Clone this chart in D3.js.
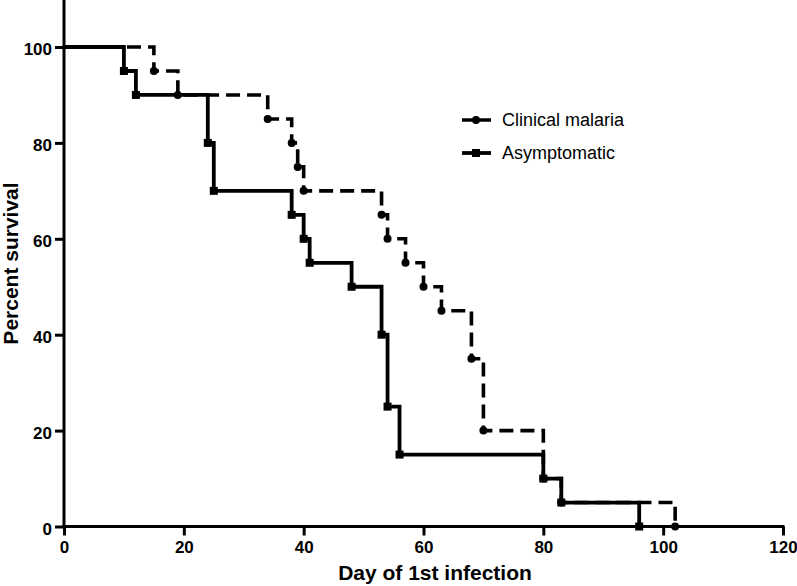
<!DOCTYPE html>
<html><head><meta charset="utf-8">
<script src="https://cdn.jsdelivr.net/npm/d3@7"></script>
<style>body{margin:0;background:#fff}svg{display:block}text{font-family:"Liberation Sans",Arial,sans-serif}</style>
</head><body>
<svg id="c" width="797" height="586"></svg>
<script>
const xTicks = [0, 20, 40, 60, 80, 100, 120];
const yTicks = [0, 20, 40, 60, 80, 100];
const seriesNames = ["Clinical malaria", "Asymptomatic"];
// drop days and survival after the drop
const clinicalDays = [15, 19, 34, 38, 39, 40, 53, 54, 57, 60, 63, 68, 70, 80, 83, 102];
const clinicalSurv = [95, 90, 85, 80, 75, 70, 65, 60, 55, 50, 45, 35, 20, 10, 5, 0];
const asymDays = [10, 12, 24, 25, 38, 40, 41, 48, 53, 54, 56, 80, 83, 96];
const asymSurv = [95, 90, 80, 70, 65, 60, 55, 50, 40, 25, 15, 10, 5, 0];

const svg = d3.select("#c");
const x = d3.scaleLinear().domain([0, 120]).range([64, 783]);
const y = d3.scaleLinear().domain([0, 100]).range([526.5, 47]);

function stepPts(days, surv) {
  const pts = [[0, 100]];
  let prev = 100;
  days.forEach((d, i) => { pts.push([d, prev]); pts.push([d, surv[i]]); prev = surv[i]; });
  return pts;
}
const line = d3.line().x(d => x(d[0])).y(d => y(d[1]));

// axes
const yAxis = d3.axisLeft(y).tickValues(yTicks).tickSize(9).tickPadding(3);
const xAxis = d3.axisBottom(x).tickValues(xTicks).tickSize(9).tickPadding(3);
const gy = svg.append("g").attr("transform", `translate(${x(0)},0)`).call(yAxis);
const gx = svg.append("g").attr("transform", `translate(0,${y(0)})`).call(xAxis);
[gy, gx].forEach(g => {
  g.select(".domain").remove();
  g.selectAll(".tick line").attr("stroke", "#000").attr("stroke-width", 3);
  g.selectAll(".tick text").attr("fill", "#000").style("font-size", "17px").style("font-weight", "bold");
});
gy.selectAll(".tick text").attr("dy", "0.45em");
gx.selectAll(".tick text").attr("dy", "0.85em");
svg.append("line").attr("x1", x(0)).attr("x2", x(0)).attr("y1", 0).attr("y2", y(0) + 1.5)
  .attr("stroke", "#000").attr("stroke-width", 3);
svg.append("line").attr("x1", x(0) - 1.5).attr("x2", x(120) + 1.5).attr("y1", y(0)).attr("y2", y(0))
  .attr("stroke", "#000").attr("stroke-width", 3);

// axis titles
svg.append("text").attr("x", 435).attr("y", 580).attr("text-anchor", "middle")
  .style("font-size", "21px").style("font-weight", "bold").text("Day of 1st infection");
svg.append("text").attr("transform", "translate(17.5,263.5) rotate(-90)").attr("text-anchor", "middle")
  .style("font-size", "21px").style("font-weight", "bold").text("Percent survival");

// curves
const asymPts = stepPts(asymDays, asymSurv);
const clinPts = stepPts(clinicalDays, clinicalSurv);
svg.append("path").attr("d", line(clinPts)).attr("fill", "none").attr("stroke", "#000")
  .attr("stroke-width", 3.6).attr("stroke-dasharray", "14,7");
svg.append("path").attr("d", line(asymPts)).attr("fill", "none").attr("stroke", "#000")
  .attr("stroke-width", 3.8).attr("stroke-linejoin", "miter");

svg.append("g").selectAll("circle").data(clinicalDays).join("circle")
  .attr("cx", (d) => x(d)).attr("cy", (d, i) => y(clinicalSurv[i])).attr("r", 4).attr("fill", "#000");
svg.append("g").selectAll("rect").data(asymDays).join("rect")
  .attr("x", d => x(d) - 4).attr("y", (d, i) => y(asymSurv[i]) - 4).attr("width", 8).attr("height", 8).attr("fill", "#000");

// legend
const lg = svg.append("g");
const ly = [120, 153];
lg.append("line").attr("x1", 462).attr("x2", 491).attr("y1", ly[0]).attr("y2", ly[0])
  .attr("stroke", "#000").attr("stroke-width", 3.6).attr("stroke-dasharray", "12,5");
lg.append("circle").attr("cx", 476).attr("cy", ly[0]).attr("r", 4).attr("fill", "#000");
lg.append("line").attr("x1", 462).attr("x2", 491).attr("y1", ly[1]).attr("y2", ly[1])
  .attr("stroke", "#000").attr("stroke-width", 3.8);
lg.append("rect").attr("x", 472).attr("y", ly[1] - 4).attr("width", 8).attr("height", 8).attr("fill", "#000");
seriesNames.forEach((n, i) => {
  lg.append("text").attr("x", 502).attr("y", ly[i]).attr("dy", "0.35em")
    .style("font-size", "18px").attr("fill", "#000").text(n);
});
</script>
</body></html>
